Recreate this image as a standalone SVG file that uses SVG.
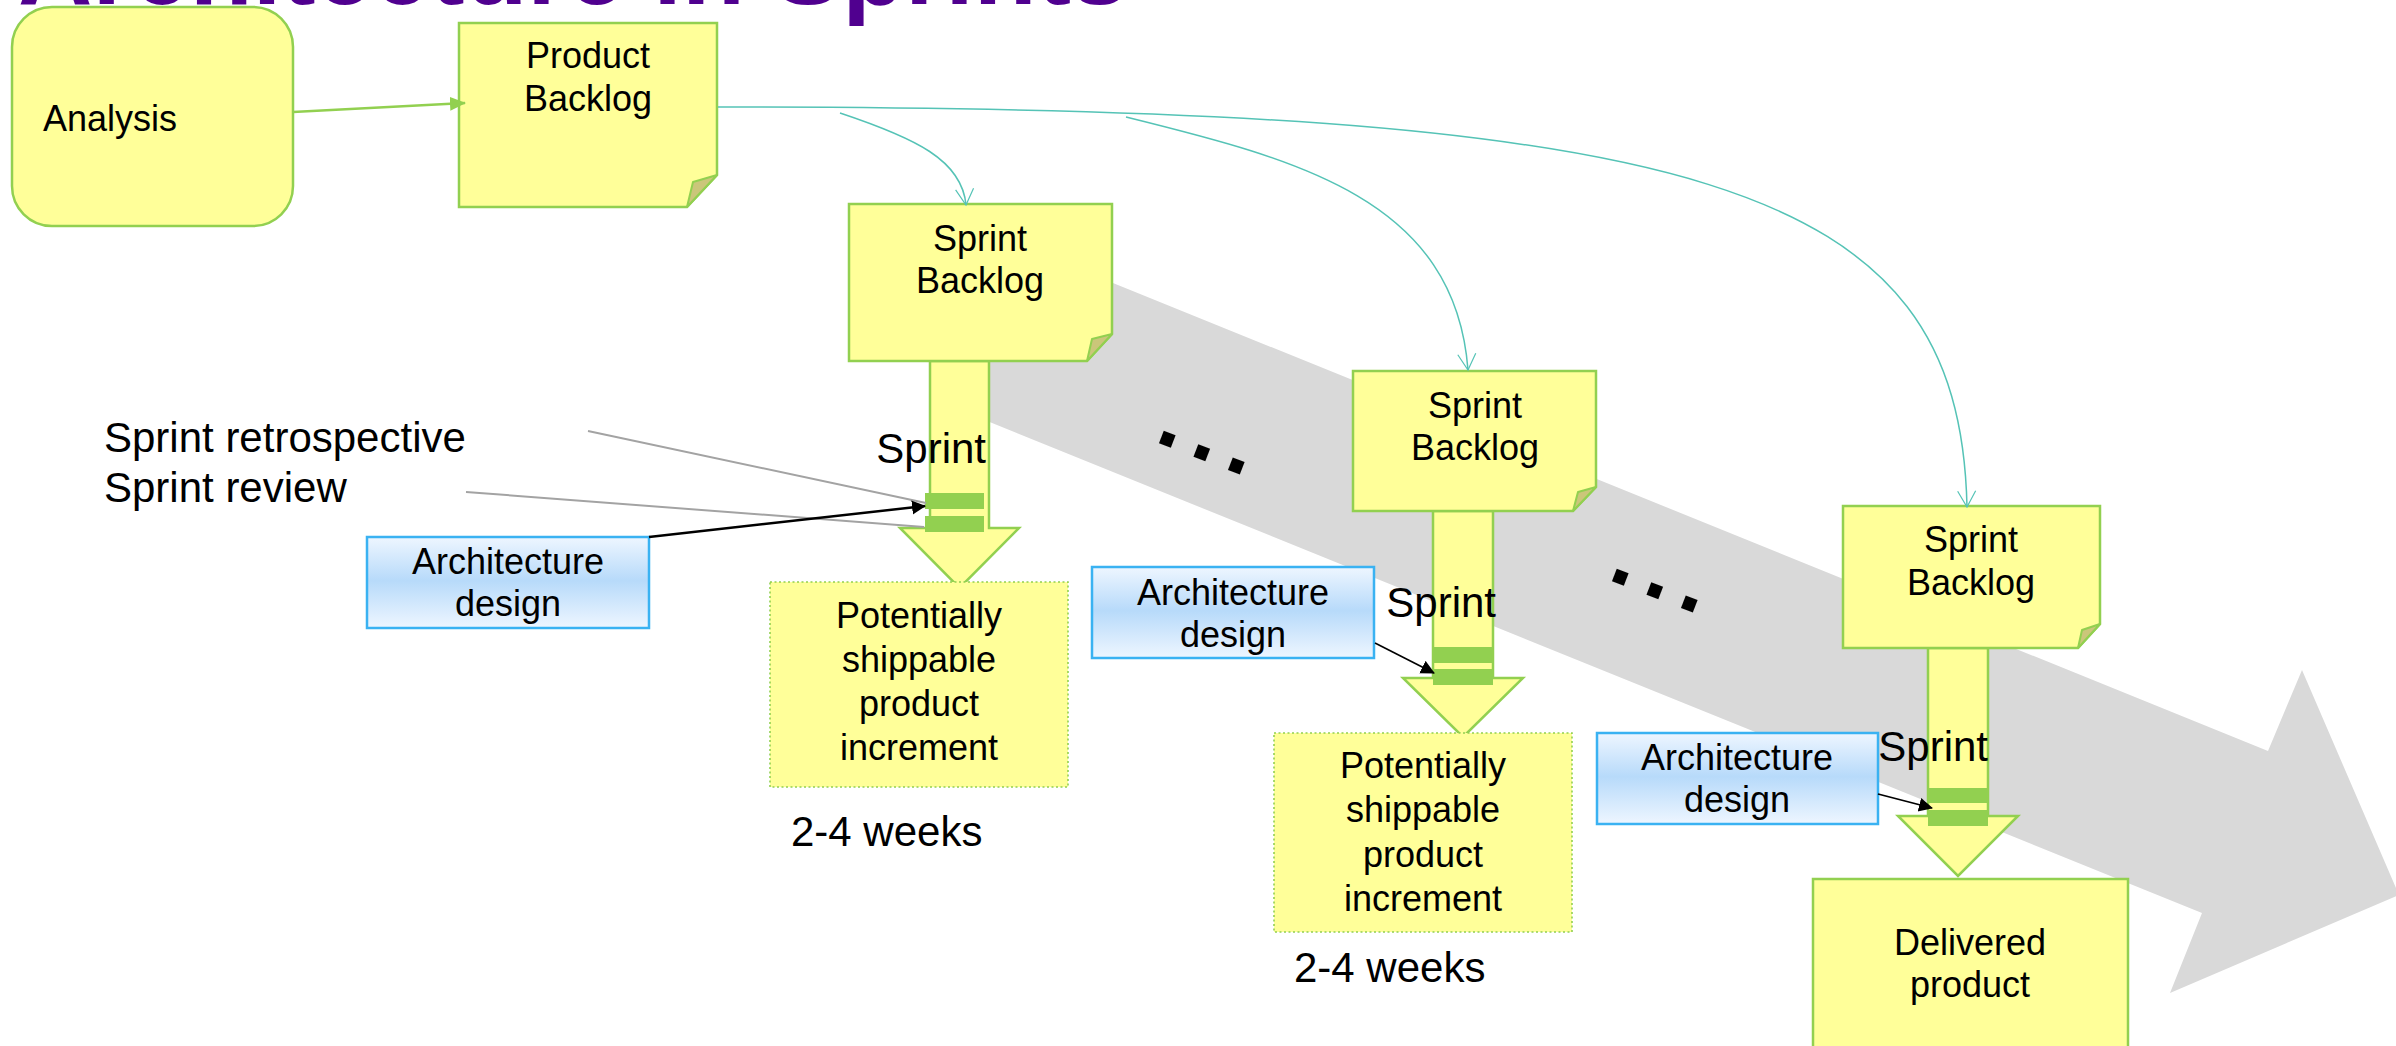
<svg xmlns="http://www.w3.org/2000/svg" width="2396" height="1046" viewBox="0 0 2396 1046">
  <style>
    text { font-family: "Liberation Sans", Arial, Helvetica, sans-serif; fill: #000; }
    .lbl { font-size: 36px; text-anchor: middle; }
    .big { font-size: 42px; }
    .note { fill: #FFFF99; stroke: #92D050; stroke-width: 2.5; stroke-linejoin: miter; }
    .fold { fill: #CBC67A; stroke: #92D050; stroke-width: 2; stroke-linejoin: round; }
    .flow { fill: #FFFF99; stroke: #92D050; stroke-width: 2.5; }
    .bar { fill: #92D050; }
    .inc { fill: #FFFF99; stroke: #92D050; stroke-width: 1.6; stroke-dasharray: 2 2.5; }
    .arch { fill: url(#archFill); stroke: #3AB2F2; stroke-width: 2.5; }
    .teal { fill: none; stroke: #55C3B6; stroke-width: 1.5; marker-end: url(#vHead); }
    .ptr { fill: none; stroke: #000; marker-end: url(#blackHead); }
    .hint { fill: none; stroke: #A3A3A3; stroke-width: 2; }
    .dots { font-size: 90px; font-weight: bold; letter-spacing: 12px; }
  </style>
  <defs>
    <linearGradient id="archFill" x1="0" y1="0" x2="0" y2="1">
      <stop offset="0" stop-color="#EEF6FF"/>
      <stop offset="0.48" stop-color="#B7DAFA"/>
      <stop offset="1" stop-color="#EEF6FF"/>
    </linearGradient>
    <marker id="vHead" markerUnits="userSpaceOnUse" markerWidth="22" markerHeight="22" refX="18" refY="10" orient="auto">
      <path d="M2,1 L18,10 L2,19" fill="none" stroke="#55C3B6" stroke-width="1.2"/>
    </marker>
    <marker id="blackHead" markerUnits="userSpaceOnUse" markerWidth="16" markerHeight="16" refX="13" refY="7" orient="auto">
      <path d="M0,0 L14,7 L0,14 Z" fill="#000"/>
    </marker>
    <marker id="greenHead" markerUnits="userSpaceOnUse" markerWidth="18" markerHeight="16" refX="15" refY="7" orient="auto">
      <path d="M0,0 L16,7 L0,14 Z" fill="#92D050"/>
    </marker>
  </defs>

  <!-- title (mostly above the page edge) -->
  <text x="18" y="4" font-size="103" font-weight="bold" style="fill:#50008F">Architecture in Sprints</text>

  <!-- big grey timeline arrow -->
  <polygon id="timeline" points="960,221 2268,751 2302,670 2399,895 2170,993 2202,913 960,410" fill="#D9D9D9"/>

  <!-- ellipsis marks along the timeline -->
  <g id="ellipsis-1" transform="translate(1167,440) rotate(21)">
    <text class="dots" x="-12.5" y="6">...</text>
  </g>
  <g id="ellipsis-2" transform="translate(1620,578) rotate(21)">
    <text class="dots" x="-12.5" y="6">...</text>
  </g>

  <!-- Analysis -->
  <g id="analysis">
    <rect x="12" y="7" width="281" height="219" rx="40" ry="40" fill="#FFFF99" stroke="#92D050" stroke-width="2.5"/>
    <text x="43" y="131" style="font-size:36px">Analysis</text>
  </g>

  <!-- Product Backlog -->
  <g id="product-backlog">
    <path class="note" d="M459,23 H717 V175 L687,207 H459 Z"/>
    <path class="fold" d="M717,175 L693,182 L687,207 Z"/>
    <text class="lbl" x="588" y="68">Product</text>
    <text class="lbl" x="588" y="111">Backlog</text>
  </g>

  <!-- Sprint 1 -->
  <g id="sprint-1">
    <polygon class="flow" points="930,361 989,361 989,528 1019,528 959.5,588 900,528 930,528"/>
    <rect class="bar" x="925" y="493" width="59" height="16"/>
    <rect class="bar" x="925" y="516" width="59" height="16"/>
    <text class="big" x="986" y="463" text-anchor="end">Sprint</text>
  </g>
  <g id="sprint-backlog-1">
    <path class="note" d="M849,204 H1112 V334 L1087,361 H849 Z"/>
    <path class="fold" d="M1112,334 L1092,339 L1087,361 Z"/>
    <text class="lbl" x="980" y="251">Sprint</text>
    <text class="lbl" x="980" y="293">Backlog</text>
  </g>
  <g id="increment-1">
    <rect class="inc" x="770" y="582" width="298" height="205"/>
    <text class="lbl" x="919" y="628">Potentially</text>
    <text class="lbl" x="919" y="672">shippable</text>
    <text class="lbl" x="919" y="716">product</text>
    <text class="lbl" x="919" y="760">increment</text>
  </g>
  <g id="weeks-1"><text class="big" x="791" y="846">2-4 weeks</text></g>
  <g id="arch-1">
    <rect class="arch" x="367" y="537" width="282" height="91"/>
    <text class="lbl" x="508" y="574">Architecture</text>
    <text class="lbl" x="508" y="616">design</text>
  </g>
  <g id="ceremonies">
    <text class="big" x="104" y="452">Sprint retrospective</text>
    <text class="big" x="104" y="502">Sprint review</text>
  </g>

  <!-- Sprint 2 -->
  <g id="sprint-2">
    <polygon class="flow" points="1433,511 1493,511 1493,678 1523,678 1463,737 1403,678 1433,678"/>
    <rect class="bar" x="1433" y="647" width="60" height="16"/>
    <rect class="bar" x="1433" y="669" width="60" height="16"/>
    <text class="big" x="1496" y="617" text-anchor="end">Sprint</text>
  </g>
  <g id="sprint-backlog-2">
    <path class="note" d="M1353,371 H1596 V487 L1573,511 H1353 Z"/>
    <path class="fold" d="M1596,487 L1578,492 L1573,511 Z"/>
    <text class="lbl" x="1475" y="418">Sprint</text>
    <text class="lbl" x="1475" y="460">Backlog</text>
  </g>
  <g id="increment-2">
    <rect class="inc" x="1274" y="733" width="298" height="199"/>
    <text class="lbl" x="1423" y="778">Potentially</text>
    <text class="lbl" x="1423" y="822">shippable</text>
    <text class="lbl" x="1423" y="867">product</text>
    <text class="lbl" x="1423" y="911">increment</text>
  </g>
  <g id="weeks-2"><text class="big" x="1294" y="982">2-4 weeks</text></g>
  <g id="arch-2">
    <rect class="arch" x="1092" y="567" width="282" height="91"/>
    <text class="lbl" x="1233" y="605">Architecture</text>
    <text class="lbl" x="1233" y="647">design</text>
  </g>

  <!-- Sprint 3 -->
  <g id="sprint-3">
    <polygon class="flow" points="1928,648 1988,648 1988,816 2018,816 1958,876 1898,816 1928,816"/>
    <rect class="bar" x="1928" y="788" width="60" height="15"/>
    <rect class="bar" x="1928" y="810" width="60" height="16"/>
    <text class="big" x="1988" y="761" text-anchor="end">Sprint</text>
  </g>
  <g id="sprint-backlog-3">
    <path class="note" d="M1843,506 H2100 V624 L2078,648 H1843 Z"/>
    <path class="fold" d="M2100,624 L2082,630 L2078,648 Z"/>
    <text class="lbl" x="1971" y="552">Sprint</text>
    <text class="lbl" x="1971" y="595">Backlog</text>
  </g>
  <g id="delivered">
    <rect x="1813" y="879" width="315" height="190" fill="#FFFF99" stroke="#92D050" stroke-width="2.5"/>
    <text class="lbl" x="1970" y="955">Delivered</text>
    <text class="lbl" x="1970" y="997">product</text>
  </g>
  <g id="arch-3">
    <rect class="arch" x="1597" y="733" width="281" height="91"/>
    <text class="lbl" x="1737" y="770">Architecture</text>
    <text class="lbl" x="1737" y="812">design</text>
  </g>

  <!-- connectors -->
  <g id="connectors">
    <line x1="293" y1="112" x2="465" y2="103" stroke="#92D050" stroke-width="2.5" marker-end="url(#greenHead)"/>
    <path class="teal" d="M718,107 C1700,107 1960,180 1967,507"/>
    <path class="teal" d="M840,113 C915,138 962,160 966,205"/>
    <path class="teal" d="M1126,117 C1300,160 1455,200 1468,370"/>
    <line class="hint" x1="588" y1="431" x2="926" y2="503"/>
    <line class="hint" x1="466" y1="492" x2="924" y2="527"/>
    <line class="ptr" x1="649" y1="537" x2="925" y2="506" stroke-width="2.5"/>
    <line class="ptr" x1="1375" y1="643" x2="1434" y2="673" stroke-width="1.6"/>
    <line class="ptr" x1="1878" y1="794" x2="1932" y2="808" stroke-width="1.8"/>
  </g>
</svg>
